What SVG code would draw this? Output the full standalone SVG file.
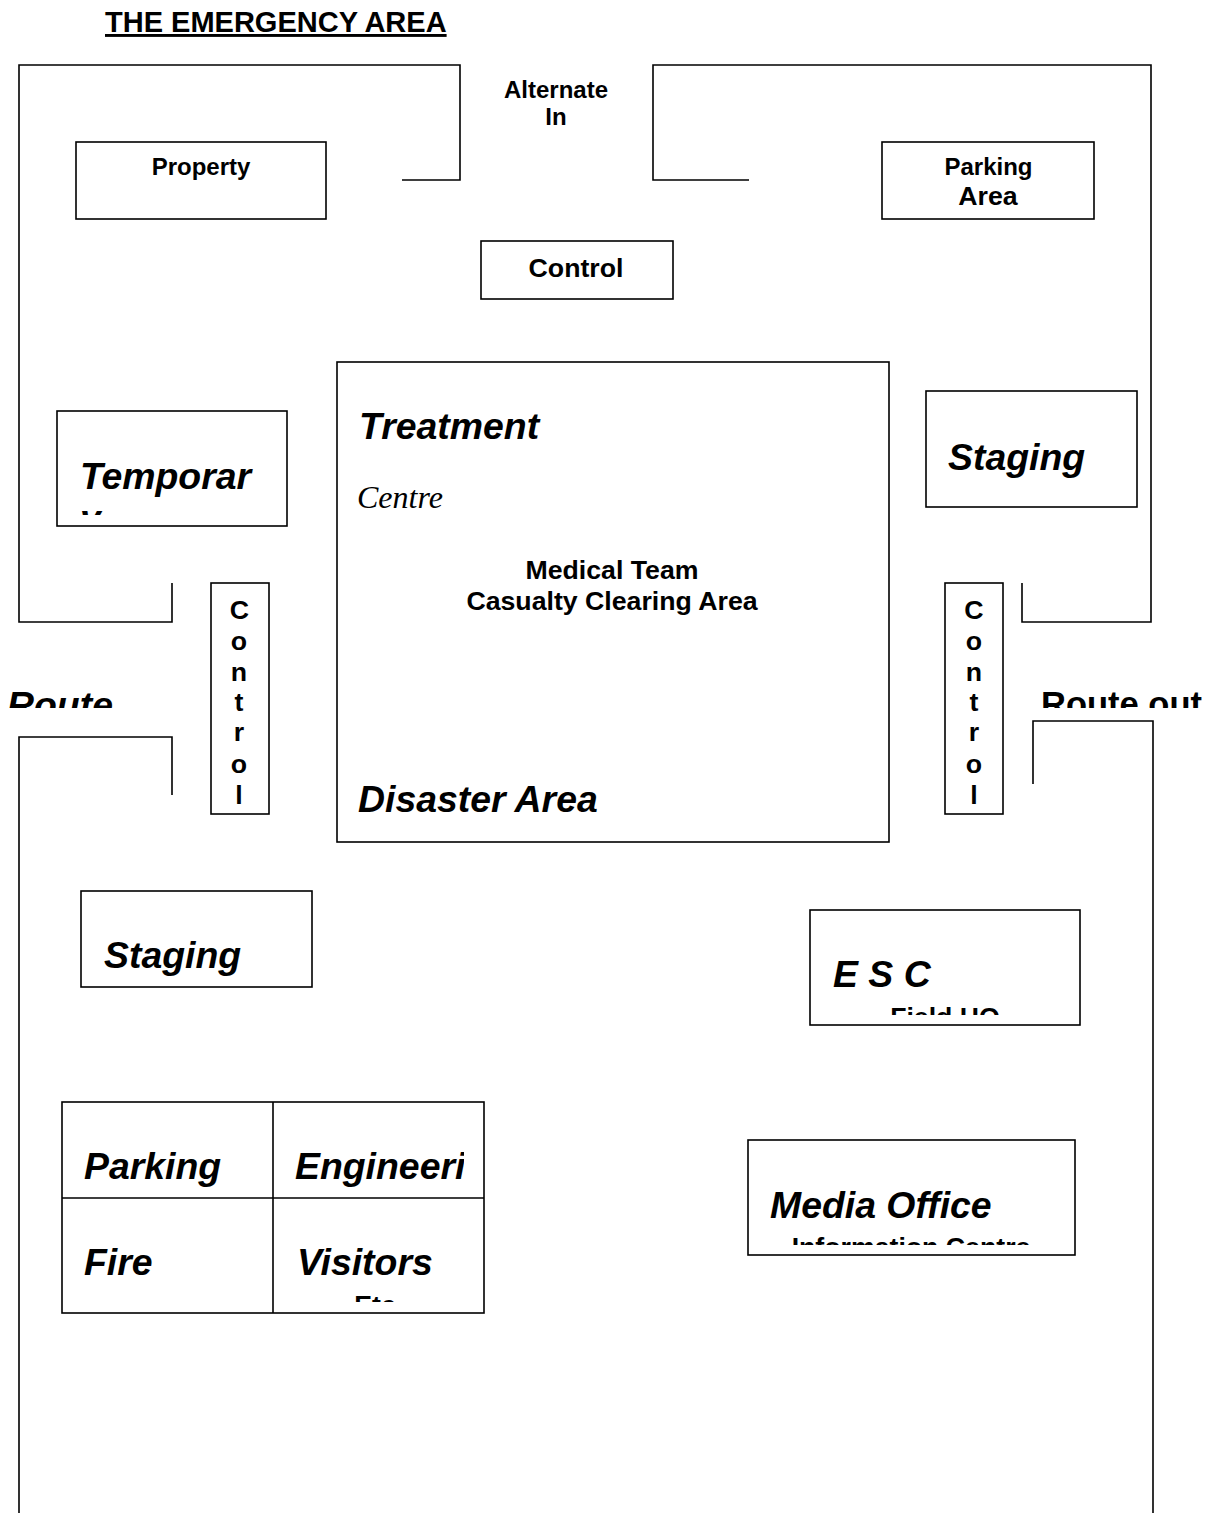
<svg xmlns="http://www.w3.org/2000/svg" width="1217" height="1513" viewBox="0 0 1217 1513">
<style>
.b{fill:#fff;stroke:#000;stroke-width:1.6}
.w{fill:none;stroke:#000;stroke-width:1.6}
text{font-family:"Liberation Sans",Arial,sans-serif;font-weight:bold;fill:#000}
.h{font-size:37.4px;font-style:italic}
.m{font-size:26.7px}
.s{font-size:24px}
.c{text-anchor:middle}
</style>
<defs>
<clipPath id="c-temp"><rect x="58" y="411" width="229" height="104"/></clipPath>
<clipPath id="c-rl"><rect x="0" y="670" width="170" height="38"/></clipPath>
<clipPath id="c-rr"><rect x="1030" y="670" width="187" height="38"/></clipPath>
<clipPath id="c-esc"><rect x="811" y="911" width="268" height="104"/></clipPath>
<clipPath id="c-media"><rect x="749" y="1141" width="325" height="104"/></clipPath>
<clipPath id="c-eng"><rect x="274" y="1103" width="190" height="94"/></clipPath>
<clipPath id="c-vis"><rect x="274" y="1199" width="210" height="103"/></clipPath>
</defs>
<g id="title"><text x="105" y="32" style="font-size:29px" text-decoration="underline">THE EMERGENCY AREA</text></g>
<g id="connectors">
<path class="w" d="M402 180H460V65H19V622H172V583"/>
<path class="w" d="M749 180H653V65H1151V622H1022V583"/>
<path class="w" d="M172 795V737H19V1513"/>
<path class="w" d="M1033 784V721H1153V1513"/>
</g>
<g id="alternate"><text class="s c" x="556" y="98">Alternate</text><text class="s c" x="556" y="125">In</text></g>
<g id="property"><rect class="b" x="76" y="142" width="250" height="77"/><text class="s c" x="201" y="175">Property</text></g>
<g id="parking-area"><rect class="b" x="882" y="142" width="212" height="77"/><text class="s c" x="988.500" y="175">Parking</text><text class="m c" x="988" y="205">Area</text></g>
<g id="control-top"><rect class="b" x="481" y="241" width="192" height="58"/><text class="m c" x="576" y="277">Control</text></g>
<g id="disaster"><rect class="b" x="337" y="362" width="552" height="480"/>
<text class="h" x="359" y="439">Treatment</text>
<text x="357" y="508" style="font-family:'Liberation Serif',serif;font-weight:normal;font-style:italic;font-size:32px">Centre</text>
<text class="m c" x="612" y="579">Medical Team</text><text class="m c" x="612" y="610">Casualty Clearing Area</text>
<text class="h" x="358" y="812">Disaster Area</text></g>
<g id="temporary"><rect class="b" x="57" y="411" width="230" height="115"/><g clip-path="url(#c-temp)"><text class="h" x="80" y="489">Temporar</text><text class="h" x="80" y="531">y</text></g></g>
<g id="staging-right"><rect class="b" x="926" y="391" width="211" height="116"/><text class="h" x="948" y="470">Staging</text></g>
<g id="control-left"><rect class="b" x="211" y="583" width="58" height="231"/><text class="m c" x="239.500" y="619">C</text><text class="m c" x="239" y="650">o</text><text class="m c" x="239" y="681">n</text><text class="m c" x="239" y="711">t</text><text class="m c" x="239" y="741">r</text><text class="m c" x="239" y="773">o</text><text class="m c" x="239" y="804">l</text></g>
<g id="control-right"><rect class="b" x="945" y="583" width="58" height="231"/><text class="m c" x="974" y="619">C</text><text class="m c" x="974" y="650">o</text><text class="m c" x="974" y="681">n</text><text class="m c" x="974" y="711">t</text><text class="m c" x="974" y="741">r</text><text class="m c" x="974" y="773">o</text><text class="m c" x="974" y="804">l</text></g>
<g id="route-in"><g clip-path="url(#c-rl)"><text class="h" x="7" y="718">Route</text></g></g>
<g id="route-out"><g clip-path="url(#c-rr)"><text x="1041" y="716" style="font-size:34.500px">Route out</text></g></g>
<g id="staging-left"><rect class="b" x="81" y="891" width="231" height="96"/><text class="h" x="104" y="968">Staging</text></g>
<g id="esc"><rect class="b" x="810" y="910" width="270" height="115"/><g clip-path="url(#c-esc)"><text class="h" x="833" y="987">E S C</text><text class="m c" x="945" y="1026">Field HQ</text></g></g>
<g id="media"><rect class="b" x="748" y="1140" width="327" height="115"/><g clip-path="url(#c-media)"><text class="h" x="770" y="1218">Media Office</text><text class="m c" x="911" y="1256">Information Centre</text></g></g>
<g id="grid"><rect class="b" x="62" y="1102" width="422" height="211"/><path class="w" d="M273 1102V1313M62 1198H484"/>
<text class="h" x="84" y="1179">Parking</text>
<g clip-path="url(#c-eng)"><text class="h" x="295" y="1179">Engineering</text></g>
<text class="h" x="84" y="1275">Fire</text>
<g clip-path="url(#c-vis)"><text class="h" x="297" y="1275">Visitors</text><text class="m c" x="375" y="1314">Etc</text></g></g>
</svg>
